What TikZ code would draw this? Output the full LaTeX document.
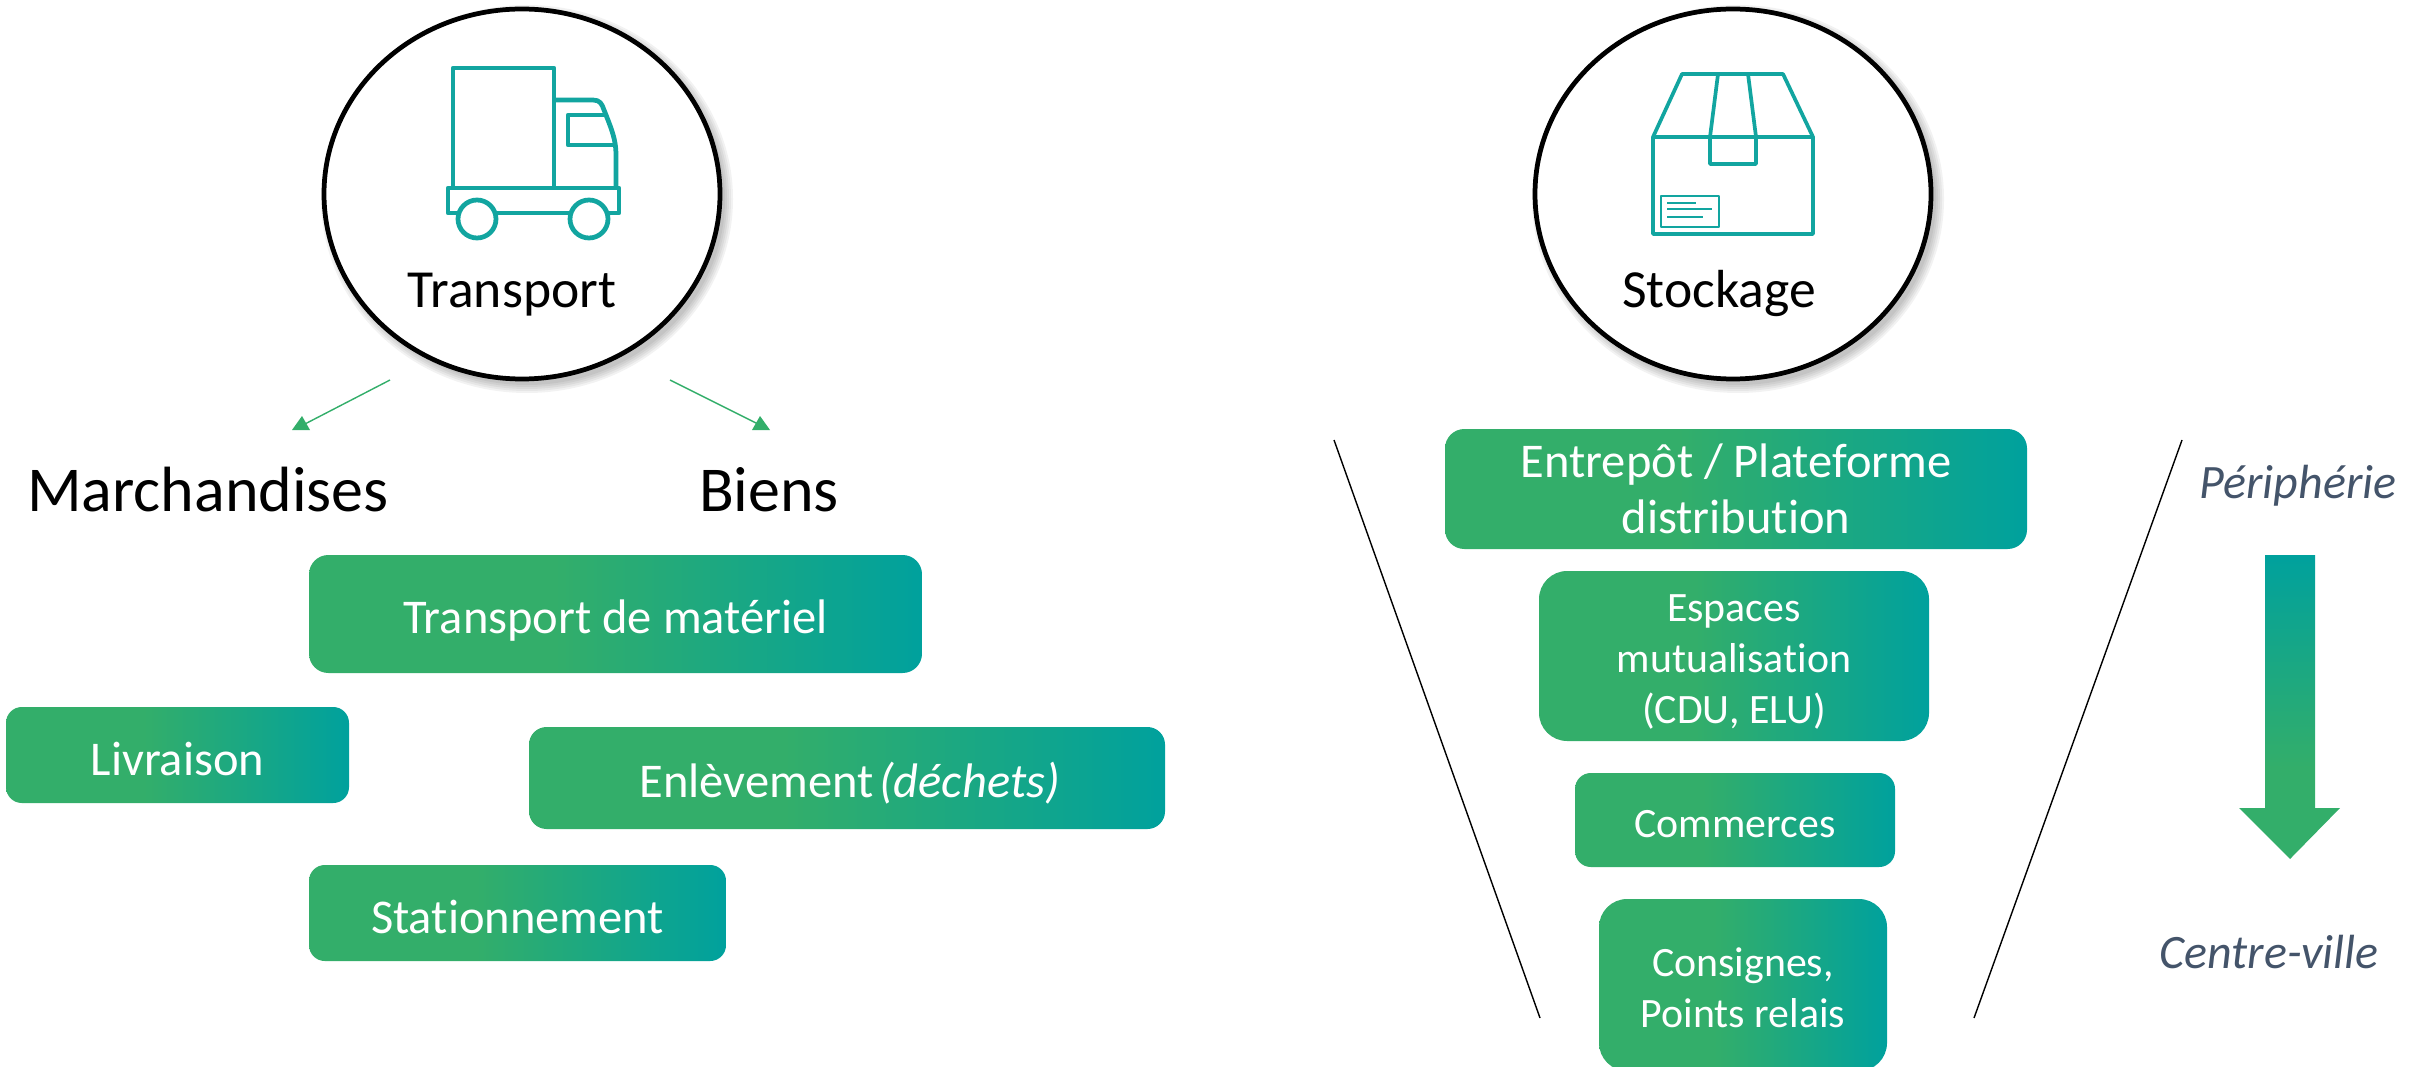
\documentclass[tikz,border=0pt]{standalone}
\usepackage{fontspec}
\setmainfont{Carlito}[Ligatures=NoCommon]
\definecolor{grn}{HTML}{33AE6A}
\definecolor{teal1}{HTML}{00A19D}
\definecolor{icon}{HTML}{12A5A0}
\definecolor{slate}{HTML}{44546A}
\pgfdeclarehorizontalshading{boxgrad}{100bp}{color(0bp)=(grn);color(45bp)=(grn);color(75bp)=(teal1);color(100bp)=(teal1)}
\pgfdeclareverticalshading{arrgrad}{100bp}{color(0bp)=(grn);color(40bp)=(grn);color(75bp)=(teal1);color(100bp)=(teal1)}
\tikzset{
 x=0.02cm,y=-0.02cm,
 gbox/.style={shade,shading=boxgrad,inner sep=0pt},
 gbig/.style={text=white,align=center,inner sep=0pt,font=\fontsize{27.6}{32}\selectfont},
 gsmall/.style={text=white,align=center,inner sep=0pt,font=\fontsize{23.8}{29}\selectfont},
 soft/.style={fill=black,opacity=0.05},
 ring/.style={draw=black,line width=2.7pt,fill=white},
 icn/.style={draw=icon,line width=2.7pt,line join=round},
 funnel/.style={draw=black,line width=0.8pt},
 garrow/.style={draw=grn,line width=0.8pt},
 gtip/.style={fill=grn},
 side/.style={text=slate,font=\fontsize{27.3}{32}\selectfont\itshape,inner sep=0pt},
 head/.style={font=\fontsize{36.4}{40}\selectfont,inner sep=0pt},
 circ label/.style={font=\fontsize{30.5}{34}\selectfont,inner sep=0pt},
}
% name, text, width, height, cx, cy, radius, text style, text shift
\newcommand{\gnode}[9]{\node[gbox,rounded corners=#7,minimum width=#3*0.02cm,minimum height=#4*0.02cm,anchor=center] (#1) at (#5,#6) {};
\node[#8] (#1t) at ([yshift=#9]#1.center) {#2};}
\begin{document}
\begin{tikzpicture}
\useasboundingbox (0,0) rectangle (2422,1067);
\clip (0,0) rectangle (2422,1067);
% circles with soft shadow
\foreach \d in {0,2,4,6,8}{
  \fill[soft] (527,199) ellipse ({198+\d} and {186+\d});
  \fill[soft] (1738,199) ellipse ({198+\d} and {186+\d});
}
\draw[ring] (522,194) ellipse (198 and 185);
\draw[ring] (1733,194) ellipse (198 and 185);
% truck
\draw[icn] (453,68) rectangle (554,188);
\draw[icn] (554,100) -- (593,100) .. controls (600,100) and (602,104) .. (604,110) .. controls (612,130) and (616,140) .. (616,155) -- (616,188);
\draw[icn] (604,115) -- (568,115) -- (568,145) -- (613,145);
\draw[icn] (458,213) -- (448,213) -- (448,188) -- (619,188) -- (619,213) -- (607,213) (495,213) -- (569,213);
\draw[icn] (477,219) circle (19);
\draw[icn] (589,219) circle (19);
% parcel
\draw[icn,line width=2.1pt] (1682,74) -- (1783,74) -- (1813,137) -- (1813,234) -- (1653,234) -- (1653,137) -- cycle;
\draw[icn,line width=2.1pt] (1653,137) -- (1813,137);
\draw[icn,line width=2.1pt] (1718,74) -- (1710,137) -- (1710,164) -- (1756,164) -- (1756,137) -- (1748,74);
\draw[icn,line width=1.6pt] (1661,196) rectangle (1719,227);
\draw[icn,line width=1.6pt] (1667,203) -- (1696,203) (1667,209) -- (1712,209) (1667,217) -- (1703,217);
% labels in circles
\node[circ label] (tl) at (512,295) {Transport};
\node[circ label] (sl) at (1719,294) {Stockage};
% green arrows
\coordinate (a1s) at (390,380); \coordinate (a1e) at (303,425);
\coordinate (a2s) at (670,380); \coordinate (a2e) at (760,425);
\draw[garrow] (a1s) -- (a1e);
\draw[garrow] (a2s) -- (a2e);
\fill[gtip] (292,430) -- (302,416) -- (310,430) -- cycle;
\fill[gtip] (752,430) -- (760,416) -- (770,430) -- cycle;
% heads
\node[head] (march) at (208,490) {Marchandises};
\node[head] (biens) at (769,490) {Biens};
% boxes
\gnode{b1}{Transport de matériel}{613}{118}{615.5}{614}{11pt}{gbig}{-3.5pt}
\gnode{b2}{Livraison}{343}{96}{177.5}{755}{9pt}{gbig}{-2pt}
\gnode{b3}{\hspace*{3pt}Enlèvement\hspace{0.12em}\textit{(déchets)}}{636}{102}{847}{778}{10pt}{gbig}{-3pt}
\gnode{b4}{Stationnement}{417}{96}{517.5}{913}{9pt}{gbig}{-2pt}
\gnode{c1}{Entrepôt / Plateforme\\distribution}{582}{120}{1736}{489}{11pt}{gbig}{0pt}
\gnode{c2}{Espaces\\mutualisation\\(CDU, ELU)}{390}{170}{1734}{656}{16pt}{gsmall}{-3.5pt}
\gnode{c3}{Commerces}{320}{94}{1735}{820}{9pt}{gsmall}{-2.5pt}
\gnode{c4}{Consignes,\\Points relais}{288}{172}{1743}{985}{16pt}{gsmall}{-1.8pt}
% funnel
\coordinate (f1) at (1334,440); \coordinate (f2) at (1540,1018);
\coordinate (f3) at (2182,440); \coordinate (f4) at (1974,1018);
\draw[funnel] (f1) -- (f2);
\draw[funnel] (f3) -- (f4);
% side
\node[side] (per) at (2298,486) {Périphérie};
\node[side] (cen) at (2269,952) {Centre-ville};
\shade[shading=arrgrad] (2265,555) -- (2315,555) -- (2315,808) -- (2340,808) -- (2290,859) -- (2239,808) -- (2265,808) -- cycle;
\end{tikzpicture}
\end{document}
